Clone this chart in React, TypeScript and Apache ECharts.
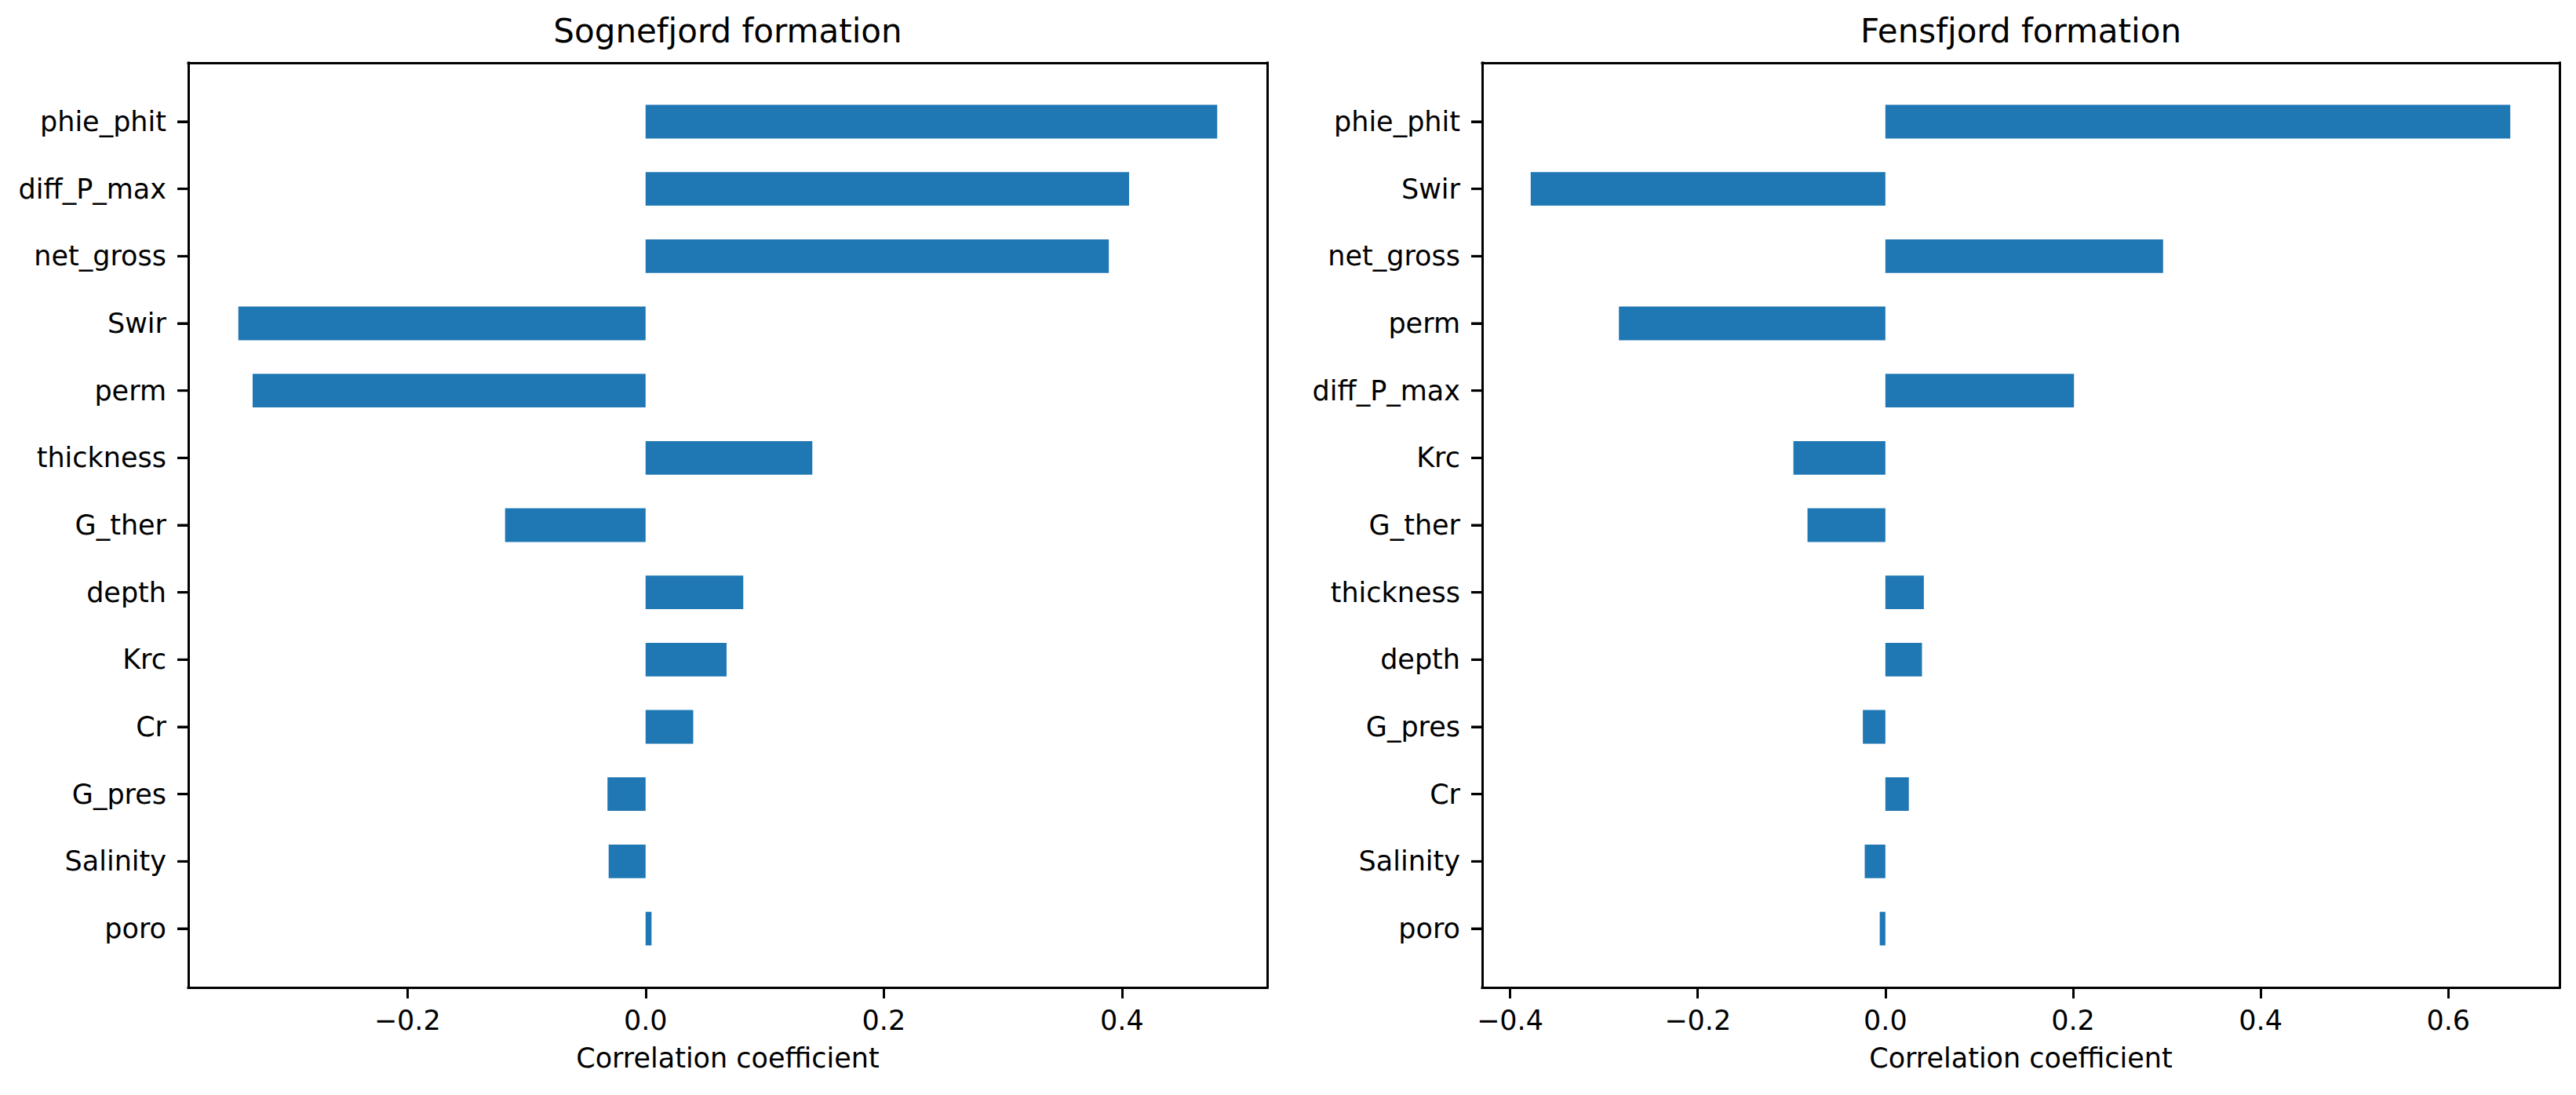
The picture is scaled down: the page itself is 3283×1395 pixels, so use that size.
import React, { useEffect, useRef } from "react";
import * as echarts from "echarts";

const titles = ["Sognefjord formation", "Fensfjord formation"];
const axisName = "Correlation coefficient";

const categoriesLeft = ["phie_phit", "diff_P_max", "net_gross", "Swir", "perm", "thickness", "G_ther", "depth", "Krc", "Cr", "G_pres", "Salinity", "poro"];
const valuesLeft = [0.48, 0.406, 0.389, -0.342, -0.33, 0.14, -0.118, 0.082, 0.068, 0.04, -0.032, -0.031, 0.005];

const categoriesRight = ["phie_phit", "Swir", "net_gross", "perm", "diff_P_max", "Krc", "G_ther", "thickness", "depth", "G_pres", "Cr", "Salinity", "poro"];
const valuesRight = [0.666, -0.378, 0.296, -0.284, 0.201, -0.098, -0.083, 0.041, 0.039, -0.024, 0.025, -0.022, -0.006];

const ticksLeft = [-0.2, 0.0, 0.2, 0.4];
const ticksRight = [-0.4, -0.2, 0.0, 0.2, 0.4, 0.6];

const rangeLeft = [-0.384, 0.522];
const rangeRight = [-0.4297, 0.7185];

const FONT = "DejaVu Sans";
const BAR_COLOR = "#1f77b4";

function fmt(v: number) {
  return v.toFixed(1).replace("-", "\u2212");
}

export default function App() {
  const ref = useRef<HTMLDivElement>(null);
  useEffect(() => {
    if (!ref.current) return;
    const chart = echarts.init(ref.current, null, { renderer: "svg" });

    const frameTop = 80;
    const frameH = 1178;
    const unit = frameH / 13.75;
    const innerTop = frameTop + 0.375 * unit;
    const innerH = 13 * unit;
    const tickLen = 14;

    const panels = [
      { left: 240, width: 1375, cats: categoriesLeft, vals: valuesLeft, ticks: ticksLeft, range: rangeLeft, title: titles[0] },
      { left: 1889, width: 1373, cats: categoriesRight, vals: valuesRight, ticks: ticksRight, range: rangeRight, title: titles[1] },
    ];

    const grid: any[] = [];
    const xAxis: any[] = [];
    const yAxis: any[] = [];
    const series: any[] = [];
    const title: any[] = [];
    const frameGrids: number[] = [];
    const lineStyle = { color: "#000", width: 3, cap: "square" };
    const tickStyle = { color: "#000", width: 3 };

    panels.forEach((p) => {
      const n = p.cats.length;
      const catPositions = p.cats.map((_, i) => i);
      const yMin = -0.875;
      const yMax = n - 1 + 0.875;

      const frameIdx = grid.length;
      frameGrids.push(frameIdx);
      grid.push({ left: p.left, top: frameTop, width: p.width, height: frameH });
      xAxis.push({
        gridIndex: frameIdx,
        type: "value",
        position: "bottom",
        z: 10,
        min: p.range[0],
        max: p.range[1],
        axisLine: { show: true, onZero: false, lineStyle },
        splitLine: { show: false },
        axisTick: { show: true, inside: false, length: tickLen, customValues: p.ticks, lineStyle: tickStyle },
        axisLabel: {
          show: true,
          customValues: p.ticks,
          formatter: (v: number) => fmt(v),
          fontSize: 35,
          fontFamily: FONT,
          color: "#000",
          margin: 24,
        },
        name: axisName,
        nameLocation: "middle",
        nameGap: 72,
        nameTextStyle: { fontSize: 35, fontFamily: FONT, color: "#000" },
      });
      xAxis.push({
        gridIndex: frameIdx,
        type: "value",
        position: "top",
        z: 10,
        min: p.range[0],
        max: p.range[1],
        axisLine: { show: true, onZero: false, lineStyle },
        splitLine: { show: false },
        axisTick: { show: false },
        axisLabel: { show: false },
      });
      yAxis.push({
        gridIndex: frameIdx,
        type: "value",
        position: "left",
        z: 10,
        inverse: true,
        min: yMin,
        max: yMax,
        axisLine: { show: true, onZero: false, lineStyle },
        splitLine: { show: false },
        axisTick: { show: true, inside: false, length: tickLen, customValues: catPositions, lineStyle: tickStyle },
        axisLabel: {
          show: true,
          customValues: catPositions,
          formatter: (v: number) => p.cats[Math.round(v)] ?? "",
          fontSize: 35,
          fontFamily: FONT,
          color: "#000",
          margin: 28,
        },
      });
      yAxis.push({
        gridIndex: frameIdx,
        type: "value",
        position: "right",
        z: 10,
        inverse: true,
        min: yMin,
        max: yMax,
        axisLine: { show: true, onZero: false, lineStyle },
        splitLine: { show: false },
        axisTick: { show: false },
        axisLabel: { show: false },
      });

      const innerIdx = grid.length;
      grid.push({ left: p.left, top: innerTop, width: p.width, height: innerH });
      const dataXIdx = xAxis.length;
      xAxis.push({
        gridIndex: innerIdx,
        type: "value",
        min: p.range[0],
        max: p.range[1],
        show: false,
      });
      const dataYIdx = yAxis.length;
      yAxis.push({
        gridIndex: innerIdx,
        type: "category",
        data: p.cats,
        inverse: true,
        show: false,
      });
      series.push({
        type: "bar",
        xAxisIndex: dataXIdx,
        yAxisIndex: dataYIdx,
        data: p.vals,
        barWidth: "50%",
        itemStyle: { color: BAR_COLOR },
      });
      title.push({
        text: p.title,
        left: p.left + p.width / 2,
        top: 18,
        textAlign: "center",
        padding: 0,
        textStyle: { fontSize: 42, fontFamily: FONT, color: "#000", fontWeight: "normal" },
      });
    });

    chart.setOption({
      animation: false,
      backgroundColor: "#fff",
      title,
      grid,
      xAxis,
      yAxis,
      series,
    });

    // category tick marks on the left edge, placed through the frame grid's own scales
    const tickEls: any[] = [];
    panels.forEach((p, k) => {
      const g = frameGrids[k];
      p.cats.forEach((_, i) => {
        const pt = chart.convertToPixel({ gridIndex: g }, [p.range[0], i]) as number[];
        if (!pt) return;
        tickEls.push({
          type: "line",
          z: 100,
          silent: true,
          shape: { x1: pt[0] - tickLen, y1: pt[1], x2: pt[0], y2: pt[1] },
          style: { stroke: "#000", lineWidth: 3 },
        });
      });
    });
    chart.setOption({ graphic: tickEls });

    return () => chart.dispose();
  }, []);

  return (
    <div
      ref={ref}
      style={{ position: "fixed", left: 0, top: 0, width: 3283, height: 1395, background: "#fff" }}
    />
  );
}
